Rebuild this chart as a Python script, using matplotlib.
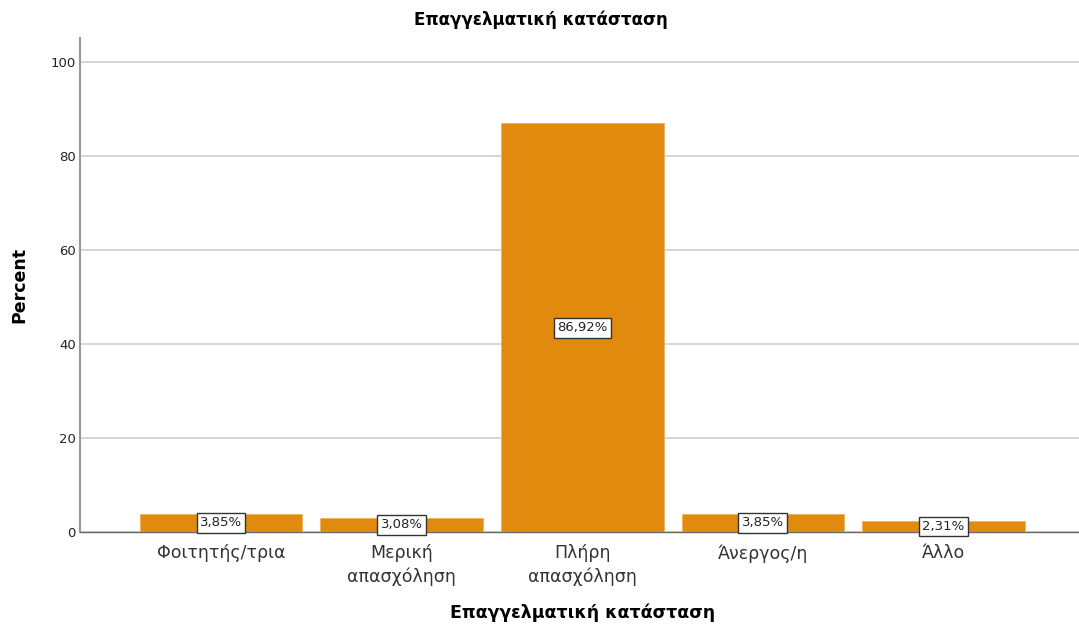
import matplotlib
matplotlib.use("Agg")
import matplotlib.pyplot as plt

# employment status distribution (percent)
categories = ["Φοιτητής/τρια", "Μερική\nαπασχόληση", "Πλήρη\nαπασχόληση", "Άνεργος/η", "Άλλο"]
percents = [3.85, 3.08, 86.92, 3.85, 2.31]
yticks = [0, 20, 40, 60, 80, 100]

plt.rcParams['font.family'] = ['DejaVu Sans']

fig = plt.figure(figsize=(10.79, 6.29), dpi=100)
ax = fig.add_axes([80 / 1079, 1 - 532 / 629, 999 / 1079, (532 - 38) / 629])

x = list(range(len(categories)))
ax.bar(x, percents, width=0.9, color="#E08A0E", edgecolor="#F0B060", linewidth=0.6, zorder=3)

# value labels in the middle of each bar
for xi, p in zip(x, percents):
    ax.text(xi, p / 2, f"{p:.2f}%".replace(".", ","), ha="center", va="center",
            fontsize=9.5, color="#222222", zorder=4,
            bbox=dict(boxstyle="square,pad=0.25", fc="white", ec="#333333", lw=1))

ax.set_xlim(-0.78, 4.75)
ax.set_ylim(0, 105.1)
ax.set_yticks(yticks)
ax.set_yticklabels([str(t) for t in yticks], fontsize=9.5, color="#222222")
ax.set_xticks(x)
ax.set_xticklabels(categories, fontsize=12.5, color="#333333", linespacing=1.35)
ax.tick_params(axis="x", length=0, pad=9)
ax.tick_params(axis="y", length=0, pad=3)

ax.grid(axis="y", color="#D0D0D0", linewidth=1.2, zorder=0)
for s in ["top", "right"]:
    ax.spines[s].set_visible(False)
ax.spines["left"].set_color("#999999")
ax.spines["left"].set_linewidth(1.5)
ax.spines["bottom"].set_color("#666666")
ax.spines["bottom"].set_linewidth(1.0)

ax.set_ylabel("Percent", fontsize=12.5, fontweight="bold", labelpad=16)
fig.text(583 / 1079, 1 - 613 / 629, "Επαγγελματική κατάσταση", ha="center", va="center",
         fontsize=12.5, fontweight="bold")
fig.text(541 / 1079, 1 - 20 / 629, "Επαγγελματική κατάσταση", ha="center", va="center",
         fontsize=12, fontweight="bold")

fig.savefig("out.png", dpi=100)
